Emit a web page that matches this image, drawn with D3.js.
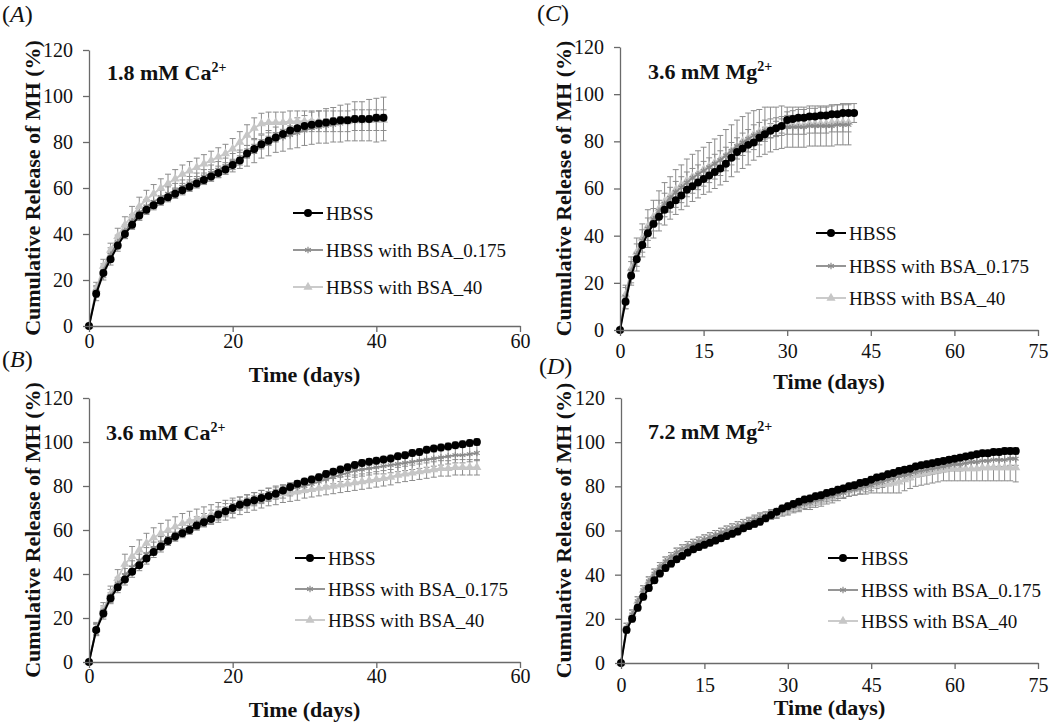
<!DOCTYPE html>
<html><head><meta charset="utf-8">
<script src="https://cdn.jsdelivr.net/npm/d3@7"></script>
<style>
body{margin:0;background:#fff}
svg{display:block}
text{font-family:"Liberation Serif","Times New Roman",serif;fill:#111}
</style>
</head><body>
<svg id="chart" width="1050" height="724"></svg>
<script>
// ---------------- DATA ----------------
const seriesNames = ["HBSS", "HBSS with BSA_0.175", "HBSS with BSA_40"];
const yTicks = [0, 20, 40, 60, 80, 100, 120];
const xTicksAB = [0, 20, 40, 60];
const xTicksCD = [0, 15, 30, 45, 60, 75];
const panelLetters = ["A", "B", "C", "D"];
const annotationLabels = ["1.8 mM Ca", "3.6 mM Ca", "3.6 mM Mg", "7.2 mM Mg"];
const annotationSup = "2+";
const yTitle = "Cumulative Release of MH (%)";
const xTitle = "Time (days)";

// Panel A : 1.8 mM Ca2+
const daysA = [0,1,2,3,4,5,6,7,8,9,10,11,12,13,14,15,16,17,18,19,20,21,22,23,24,25,26,27,28,29,30,31,32,33,34,35,36,37,38,39,40,41];
const hbssA = [0,14,23,29,35,40,44,48,50.5,52.5, 54.5,56,57.5,59,60.5,62,63.5,65,66.5,68, 70,72,75,77,79,80.5,82,83.5,85,86, 87,87.5,88,88.5,89,89.5,89.5,90,90,90, 90.5,90.5];
const hbssAErr = [0,3,3,2.5,2.5,2,2,2,2,2, 2,2,2,2,2,2,2,2,2,2, 2,2,2,2,2,2,2,2,2,2, 2,2,1.5,1.5,1.5,1.5,1.5,1.5,1.5,1.5, 1.5,1.5];
const bsa0175A = [0,15,24,31,36.5,41,45.5,49,52,54, 56,57.5,59,60.5,62,63.5,65,66.5,68,69.5, 71,72.5,74,76,78,79.5,81,82,83,84, 85,86,86.5,87,87.5,88,88.5,89,89,89.5, 89.5,90];
const bsa0175AErr = [0,2.5,3,3,3,3,3,3,3,3, 3,3,3,3,3,3,3,3.5,3.5,3.5, 4,4,4.5,5,5,5.5,5.5,6,6,6.5, 6.5,7,7,7.5,7.5,8,8,8.5,8.5,9, 9.5,9.5];
const bsa40A = [0,16,26,33,39,44,48,52,55,57.5, 60,62,64,66,67.5,69,70.5,72,73.5,75, 77,80,83,86,88,88.5,88.5,88.5,89,89, 89,89,89,89,89,89,89,89.5,89.5,89.5, 89.5,89.5];
const bsa40AErr = [0,3,3,3,3.5,3.5,4,4,4,4, 4,4,4,4,4,4,4,4,4,4, 4.5,4.5,4.5,4.5,4.5,4.5,4.5,4.5,4.5,4.5, 4.5,4.5,4.5,4.5,4.5,4.5,4.5,4.5,4.5,4.5, 4.5,4.5];

// Panel B : 3.6 mM Ca2+
const daysB = [0,1,2,3,4,5,6,7,8,9,10,11,12,13,14,15,16,17,18,19,20,21,22,23,24,25,26,27,28,29,30,31,32,33,34,35,36,37,38,39,40,41,42,43,44,45,46,47,48,49,50,51,52,53,54];
const hbssB = [0,14.5,22,29,34,37.5,41,44,47,50, 52.5,55,57,58.5,60,62,63.5,65,67,68.5, 70,71.5,72.5,73.5,74.5,75.5,76.5,78,79.5,81, 82,83,84,85.5,86.5,87.5,88.5,89.5,90.5,91, 91.5,92,92.5,93.5,94,95,95.5,96.5,97,97.5, 98,98.5,99,99.5,100];
const hbssBErr = [0,2.5,2.5,2.5,2.5,2.5,2.5,2.5,2.5,2.5, 2.5,2,2,2,2,2,2,2,2,2, 2,2,2,2,2,2,2,2,1.5,1.5, 1.5,1.5,1.5,1.5,1.5,1.5,1.5,1.5,1.5,1.5, 1.5,1.5,1.5,1.5,1.5,1.5,1.5,1.5,1.5,1.5, 1.5,1.5,1.5,1.5,1.5];
const bsa0175B = [0,15,23,30,35.5,39.5,43,46,49,51.5, 54,56,58,60,61.5,63,64.5,66,67.5,69, 70.5,72,73,74,75,76,77,77.5,78.5,79.5, 80,81,82,83,84,85,86,87,87.5,88, 88.5,89,89.5,90,90.5,91,91.5,92,92.5,93, 93.5,94,94,94.5,95];
const bsa0175BErr = [0,2.5,2.5,3,3,3,3,3,3,3, 3,3,3,3,3,3,3,3,3,3, 3,3,3,3,3,3,3,3,3,3, 3,3,3,3,3,3,3,3,3,3, 3,3.5,3.5,3.5,3.5,3.5,3.5,3.5,3.5,3.5, 3.5,3.5,3.5,3.5,3.5];
const bsa40B = [0,15,24,31,38,44.5,48,51,54,56.5, 58.5,60,61.5,63,64,65,66,67,68,69, 70,71,72,73,74,75,75.5,76.5,77,77.5, 78,78.5,79,79.5,80,80.5,81,81.5,82,82.5, 83,83.5,84,85,85.5,86,86.5,87,87.5,88, 88,88.5,88.5,88.5,88.5];
const bsa40BErr = [0,3,3,3.5,4,4.5,4.5,4.5,4.5,4.5, 4.5,4.5,4.5,4.5,4.5,4.5,4.5,4.5,4.5,4.5, 4.5,4,4,4,4,4,4,4,4,4, 3.5,3.5,3.5,3.5,3.5,3.5,3.5,3.5,3.5,3.5, 3.5,3.5,3.5,3.5,3.5,3.5,3.5,3.5,3.5,3.5, 3.5,3.5,3.5,3.5,3.5];

// Panel C : 3.6 mM Mg2+
const daysC = [0,1,2,3,4,5,6,7,8,9,10,11,12,13,14,15,16,17,18,19,20,21,22,23,24,25,26,27,28,29,30,31,32,33,34,35,36,37,38,39,40,41,42];
const hbssC = [0,12,23,30,36,41,45,48,51,53, 55,57,59.5,61,62.5,64,65.5,67,68.5,70.5, 73,75.5,77,78.5,79.5,81.5,83,84.5,85.5,86.5, 89,89.5,90,90,90.5,90.5,91,91,91.5,91.5, 92,92,92];
const hbssCErr = [0,3,3,3,3,3,3,3,3,3, 3,3,3,3,3,3,3,3,3,3, 3,3,3,3,3,3,3,3,3,3, 3.5,3.5,3.5,3.5,3.5,3.5,3.5,3.5,4,4, 4,4,4];
const bsa0175C = [0,14,25,32,38,43,47,50.5,53.5,56, 58.5,60.5,62.5,64.5,66,67.5,69,70.5,72,74, 76,78,79.5,81,82.5,83.5,84.5,85,85.5,86, 86,86,86,86,86.5,86.5,86.5,86.5,86.5,87, 87,87];
const bsa0175CErr = [0,5,6,7,7,8,8,8.5,9,9, 9.5,9.5,10,10,10,10,10.5,10.5,10.5,11, 11,11,11,11,10.5,10,10,9.5,9,9, 8.5,8.5,8.5,8.5,8.5,8.5,8.5,8.5,8.5,8.5, 8.5,8.5];
const bsa40C = [0,15,26,33,39,44,48,51.5,54.5,57, 59.5,61.5,63.5,65,66.5,68,69.5,71,72.5,74, 76,78,80,81.5,83,84,85,85.5,86,86.5, 87,87,87,87,87.5,87.5,87.5,87.5,88,88, 88,88];
const bsa40CErr = [0,3,3,3.5,3.5,3.5,3.5,3.5,3.5,3.5, 3.5,3.5,3.5,3.5,3.5,3.5,3.5,3.5,3.5,3.5, 3.5,3.5,3.5,3.5,4,4,4,4,4,4, 4,4,4,4,4,4,4,4,4,4, 4,4];

// Panel D : 7.2 mM Mg2+
const daysD = [0,1,2,3,4,5,6,7,8,9,10,11,12,13,14,15,16,17,18,19,20,21,22,23,24,25,26,27,28,29,30,31,32,33,34,35,36,37,38,39,40,41,42,43,44,45,46,47,48,49,50,51,52,53,54,55,56,57,58,59,60,61,62,63,64,65,66,67,68,69,70,71];
const hbssD = [0,15,20,25,30,34,37.5,40.5,43,45, 47,48.5,50,51.5,52.5,53.5,54.5,55.5,56.5,57.5, 58.5,59.5,61,62,63,64,65.5,67,68.5,70, 71,72,73,74,74.5,75.5,76,77,77.5,78.5, 79,80,80.5,81.5,82,83,84,84.5,85.5,86, 87,87.5,88,89,89.5,90,90.5,91,91.5,92, 92.5,93,93.5,94,94.5,95,95,95.5,95.5,96, 96,96];
const hbssDErr = [0,1.5,1.5,1.5,1.5,1.5,1.5,1.5,1.5,1.5, 1.5,1.5,1.5,1.5,1.5,1.5,1.5,1.5,1.5,1.5, 1.5,1.5,1.5,1.5,1.5,1.5,1.5,1.5,1.5,1.5, 1.5,1.5,1.5,1.5,1.5,1.5,1.5,1.5,1.5,1.5, 1.5,1.5,1.5,1.5,1.5,1.5,1.5,1.5,1.5,1.5, 1.5,1.5,1.5,1.5,1.5,1.5,1.5,1.5,1.5,1.5, 1.5,1.5,1.5,1.5,1.5,1.5,1.5,1.5,1.5,1.5, 1.5,1.5];
const bsa0175D = [0,16,22,28,33,37,40.5,43.5,46,48, 50,51.5,53,54,55,56,57,58,59,60, 61,62,63,64,65,66,66.5,67.5,68,69, 69.5,70.5,71,72,72.5,73.5,74,75,75.5,76.5, 77,78,78.5,79,80,80.5,81.5,82,83,83.5, 84.5,85,85.5,86.5,87,87.5,88,88.5,89,89.5, 90,90,90.5,91,91,91.5,91.5,92,92,92, 92.5,92.5];
const bsa0175DErr = [0,2,2,2,2,2,2,2,2,2, 2,2,2,2,2,2,2,2,2,2, 2,2,2,2,2,2,2,2,2,2, 2,2,2,2,2,2,2,2,2,2, 2.5,2.5,2.5,2.5,2.5,2.5,2.5,2.5,2.5,2.5, 2.5,2.5,2.5,2.5,2.5,2.5,2.5,2.5,2.5,2.5, 3,3,3,3,3,3,3,3,3,3, 3,3];
const bsa40D = [0,16,22,28,33,37,40.5,43.5,46,48, 50,51.5,53,54,55,56,57,58,59,60, 61,62,63,63.5,64.5,65.5,66,67,67.5,68.5, 69,70,70.5,71.5,72,73,73.5,74.5,75,76, 77.5,78,78.5,79,79.5,80,80.5,81,81,81.5, 82,83,84,85,85.5,86,86.5,87,87.5,88, 88,88,88,88,88,88.5,88.5,88.5,88.5,88.5, 88.5,88.5];
const bsa40DErr = [0,2,2,2,2,2,2,2,2,2, 2,2,2,2,2,2,2,2,2,2, 2,2,2,2,2,2,2,2,2,2, 2,2,2,2,2.5,2.5,2.5,2.5,2.5,2.5, 2.5,2.5,2.5,2.5,3,3,3.5,4,4,4.5, 5,5,5,5,5,5,5,5,5,5.5, 5.5,5.5,5.5,5.5,5.5,6,6,6,6,6, 6,6.5];

// ---------------- STYLE / LAYOUT ----------------
const seriesStyle = [
  {color: "#000000", symbol: "circle", width: 2},
  {color: "#8a8a8a", symbol: "asterisk", width: 1.8},
  {color: "#c6c6c6", symbol: "triangle", width: 1.8}
];
const errColor = "#8c8c8c";
const axisColor = "#6a6a6a";

const panels = [
  {days: daysA, series: [[hbssA, hbssAErr], [bsa0175A, bsa0175AErr], [bsa40A, bsa40AErr]], xMax: 60, xTicks: xTicksAB,
   L: {x0: 89, x1: 520, y0: 326, y1: 50, tickY: 341, titleY: 374, yTitleX: 32, letX: 2, letY: 22, annX: 107, annY: 80, legX: 293, legY: [213, 250, 287]}},
  {days: daysB, series: [[hbssB, hbssBErr], [bsa0175B, bsa0175BErr], [bsa40B, bsa40BErr]], xMax: 60, xTicks: xTicksAB,
   L: {x0: 89, x1: 520, y0: 662, y1: 398, tickY: 676, titleY: 709, yTitleX: 32, letX: 2, letY: 367, annX: 106, annY: 440, legX: 295, legY: [558, 589, 620]}},
  {days: daysC, series: [[hbssC, hbssCErr], [bsa0175C, bsa0175CErr], [bsa40C, bsa40CErr]], xMax: 75, xTicks: xTicksCD,
   L: {x0: 620, x1: 1038, y0: 330, y1: 47, tickY: 351, titleY: 381, yTitleX: 563, letX: 537, letY: 21, annX: 648, annY: 79, legX: 816, legY: [233, 266, 298]}},
  {days: daysD, series: [[hbssD, hbssDErr], [bsa0175D, bsa0175DErr], [bsa40D, bsa40DErr]], xMax: 75, xTicks: xTicksCD,
   L: {x0: 621, x1: 1038, y0: 663, y1: 398, tickY: 685, titleY: 707, yTitleX: 563, letX: 539, letY: 374, annX: 648, annY: 439, legX: 828, legY: [558, 590, 621]}}
];

const svg = d3.select("#chart");

function symbolPath(kind, size) {
  let t = d3.symbolCircle;
  if (kind === "triangle") t = d3.symbolTriangle;
  if (kind === "asterisk") t = d3.symbolAsterisk || d3.symbolCross;
  return d3.symbol().type(t).size(size)();
}
function drawMarker(g, kind, color, x, y) {
  if (kind === "asterisk") {
    g.append("path").attr("d", symbolPath(kind, 30)).attr("transform", `translate(${x},${y})`)
      .attr("fill", "none").attr("stroke", color).attr("stroke-width", 1.2);
  } else if (kind === "triangle") {
    g.append("path").attr("d", symbolPath(kind, 36)).attr("transform", `translate(${x},${y})`)
      .attr("fill", color);
  } else {
    g.append("path").attr("d", symbolPath(kind, 50)).attr("transform", `translate(${x},${y})`)
      .attr("fill", color);
  }
}

panels.forEach((p, pi) => {
  const L = p.L;
  const g = svg.append("g");
  const x = d3.scaleLinear().domain([0, p.xMax]).range([L.x0, L.x1]);
  const y = d3.scaleLinear().domain([0, 120]).range([L.y0, L.y1]);

  const prepared = p.series.map((s, si) => ({
    si: si,
    pts: s[0].map((v, i) => ({d: p.days[i], v: v, e: s[1][i]}))
  }));

  // error bars (all series, drawn beneath)
  const eg = g.append("g");
  prepared.forEach(s => {
    s.pts.forEach(pt => {
      if (!pt.e) return;
      const cx = x(pt.d), yt = y(pt.v + pt.e), yb = y(pt.v - pt.e);
      eg.append("line").attr("x1", cx).attr("x2", cx).attr("y1", yt).attr("y2", yb).attr("stroke", errColor).attr("stroke-width", 1);
      eg.append("line").attr("x1", cx - 3).attr("x2", cx + 3).attr("y1", yt).attr("y2", yt).attr("stroke", errColor).attr("stroke-width", 1);
      eg.append("line").attr("x1", cx - 3).attr("x2", cx + 3).attr("y1", yb).attr("y2", yb).attr("stroke", errColor).attr("stroke-width", 1);
    });
  });

  // lines + markers, HBSS drawn last (on top)
  const line = d3.line().x(d => x(d.d)).y(d => y(d.v));
  prepared.slice().reverse().forEach(s => {
    const st = seriesStyle[s.si];
    const sg = g.append("g");
    sg.append("path").datum(s.pts).attr("d", line).attr("fill", "none").attr("stroke", st.color).attr("stroke-width", st.width);
    s.pts.forEach(pt => drawMarker(sg, st.symbol, st.color, x(pt.d), y(pt.v)));
  });

  // axes
  const yAxis = d3.axisLeft(y).tickValues(yTicks).tickSize(6).tickPadding(10).tickSizeOuter(0);
  const ya = g.append("g").attr("transform", `translate(${L.x0},0)`).call(yAxis);
  const xAxis = d3.axisBottom(x).tickValues(p.xTicks).tickSize(6).tickSizeOuter(0);
  const xa = g.append("g").attr("transform", `translate(0,${L.y0})`).call(xAxis);
  [ya, xa].forEach(a => {
    a.select(".domain").attr("stroke", axisColor).attr("stroke-width", 1.3);
    a.selectAll(".tick line").attr("stroke", axisColor).attr("stroke-width", 1.3);
    a.selectAll(".tick text").attr("font-family", "Liberation Serif, serif").attr("font-size", 20).attr("fill", "#111");
  });
  xa.selectAll(".tick text").attr("y", L.tickY - L.y0).attr("dy", "0.35em");

  // titles
  g.append("text").attr("x", (L.x0 + L.x1) / 2).attr("y", L.titleY).attr("dy", "0.35em")
    .attr("text-anchor", "middle").attr("font-weight", "bold").attr("font-size", 22).text(xTitle);
  g.append("text").attr("transform", `translate(${L.yTitleX},${(L.y0 + L.y1) / 2}) rotate(-90)`)
    .attr("dy", "0.35em").attr("text-anchor", "middle").attr("font-weight", "bold").attr("font-size", 22).text(yTitle);

  // panel letter
  const lt = g.append("text").attr("x", L.letX).attr("y", L.letY).attr("font-size", 24);
  lt.append("tspan").text("(");
  lt.append("tspan").attr("font-style", "italic").text(panelLetters[pi]);
  lt.append("tspan").text(")");

  // annotation
  const an = g.append("text").attr("x", L.annX).attr("y", L.annY).attr("font-size", 22).attr("font-weight", "bold");
  an.append("tspan").text(annotationLabels[pi]);
  an.append("tspan").attr("font-size", 14).attr("dy", -8).text(annotationSup);

  // legend
  seriesNames.forEach((nm, si) => {
    const st = seriesStyle[si];
    const ly = L.legY[si];
    g.append("line").attr("x1", L.legX).attr("x2", L.legX + 30).attr("y1", ly).attr("y2", ly)
      .attr("stroke", st.color).attr("stroke-width", st.width);
    drawMarker(g, st.symbol, st.color, L.legX + 15, ly);
    g.append("text").attr("x", L.legX + 33).attr("y", ly).attr("dy", "0.35em").attr("font-size", 19).text(nm);
  });
});
</script>
</body></html>
